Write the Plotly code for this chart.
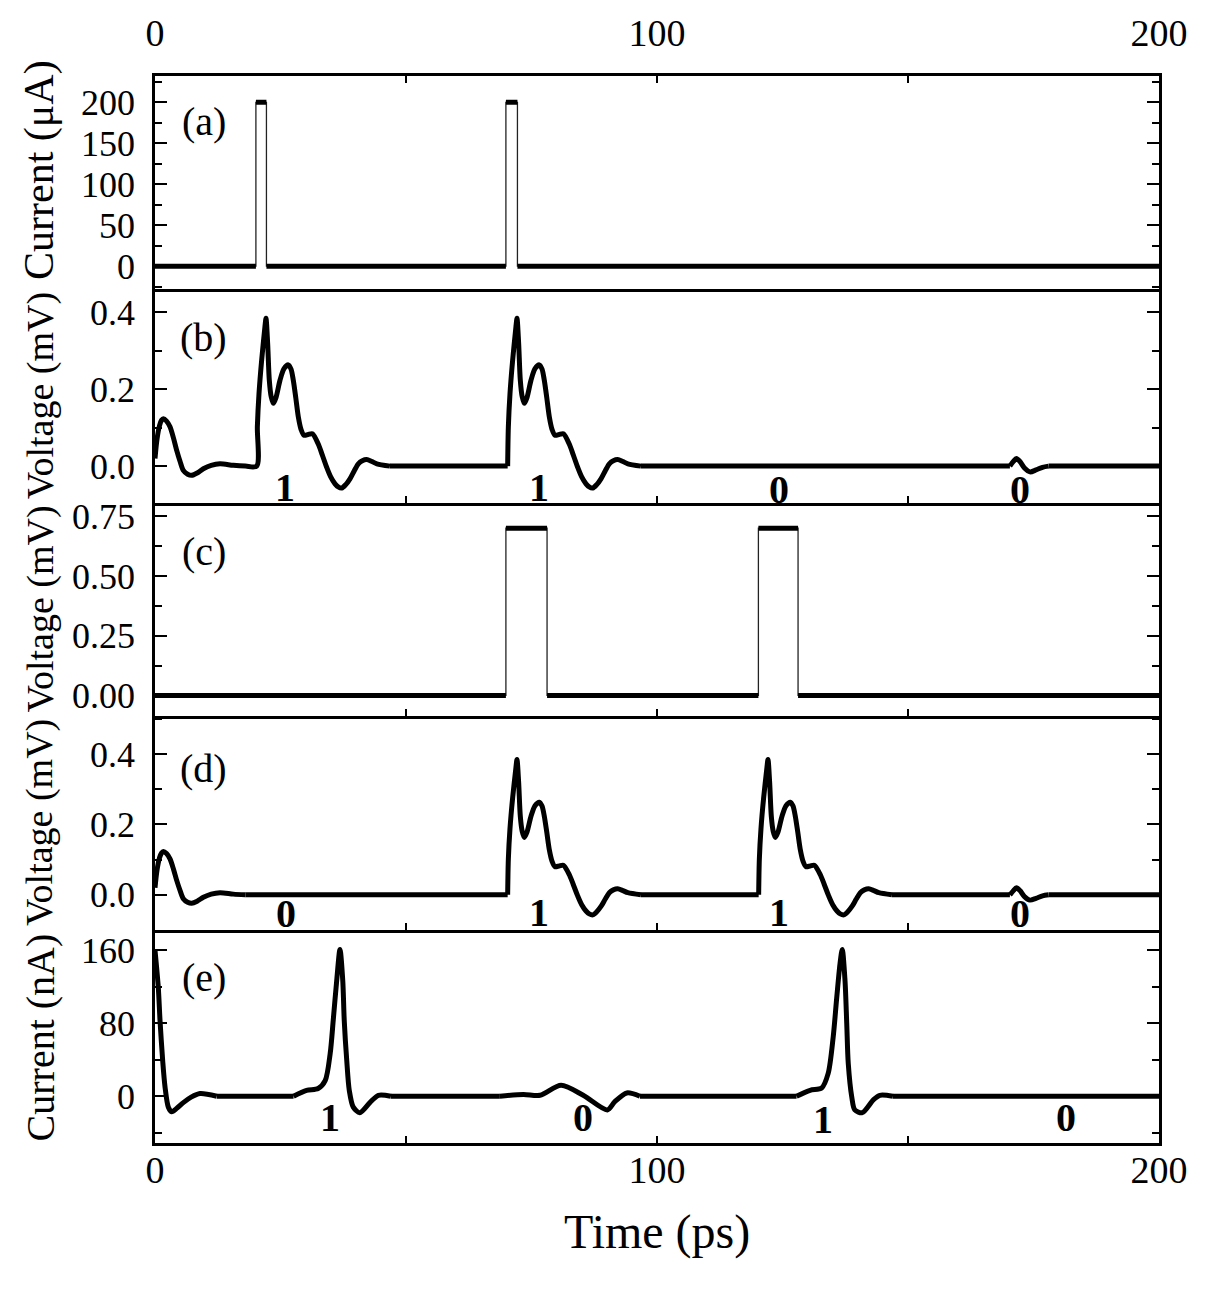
import plotly.graph_objects as go

# ---------------- data ----------------
# (a) input current pulses (uA)
a_t = [0, 20.1, 20.1, 22.2, 22.2, 69.9, 69.9, 72.2, 72.2, 200]
a_v = [0, 0, 200, 200, 0, 0, 200, 200, 0, 0]

# (c) input voltage pulses (mV)
c_t = [0, 69.9, 69.9, 78.1, 78.1, 120.2, 120.2, 128.1, 128.1, 200]
c_v = [0, 0, 0.7, 0.7, 0, 0, 0.7, 0.7, 0, 0]

# start-up ringing seen at t = 0 in (b) and (d) (mV)
init_t = [0, 0.4, 0.9, 1.3, 1.66, 2.3, 2.99, 3.7, 4.32, 5.0, 5.64, 6.5, 7.3, 8.4, 9.63, 11.2, 12.95, 15.6, 18]
init_v = [0.02, 0.07, 0.105, 0.119, 0.123, 0.117, 0.102, 0.072, 0.041, 0.012, -0.011, -0.021, -0.024, -0.018,
          -0.007, 0.002, 0.006, 0.002, 0]

# voltage response after an input pulse, time measured from the pulse start (mV)
resp_dt = [0.25, 0.39, 0.72, 1.25, 1.91, 2.11, 2.44, 2.77, 3.15, 3.57, 4.1, 4.9, 5.7, 6.56, 7.1, 7.55,
           8.05, 8.55, 9.1, 9.68, 10.5, 11.34, 12.5, 13.3, 14.2, 15.0, 15.86, 16.5, 17.2, 18.0, 18.84,
           19.7, 20.5, 21.3, 22.17, 23.2, 24.2, 26.8]
resp_v = [0, 0.102, 0.189, 0.276, 0.363, 0.384, 0.319, 0.223, 0.18, 0.163, 0.178, 0.223, 0.253, 0.263,
          0.252, 0.223, 0.177, 0.128, 0.095, 0.08, 0.082, 0.084, 0.058, 0.03, -0.003, -0.028, -0.046,
          -0.054, -0.057, -0.048, -0.033, -0.012, 0.006, 0.014, 0.017, 0.012, 0.006, 0]
b_pulses = [20, 70]
d_pulses = [70, 120]

# small ripple near 172 ps in (b) and (d) (mV)
wig_t = [170.3, 171.0, 171.6, 172.3, 173.2, 174.3, 175.5, 176.8, 178.0]
wig_v = [0, 0.012, 0.02, 0.012, -0.005, -0.015, -0.01, -0.003, 0]

# (e) output current (nA)
e_t = [0, 0.66, 1.0, 1.53, 2.0, 2.66, 3.32, 4.4, 5.64, 7.2, 8.96, 12.3, 27.6, 30.2, 32.5, 33.9, 34.9,
       35.5, 36.2, 36.85, 37.4, 37.7, 38.2, 38.7, 39.5, 40.8, 42.8, 44.5, 47, 68.7, 73.4,
       76.7, 80.9, 85.3, 90.1, 91.6, 94.0, 96.6, 127.8, 130.5, 132.8, 134.1, 135.1, 135.8,
       136.45, 136.9, 137.45, 137.8, 138.1, 138.8, 139.4, 140.9, 143.1, 144.4, 147, 200]
e_v = [160, 119, 83, 39, 10, -12, -17, -13, -7, -1, 3, 0, 0, 6.5, 8.4, 17, 47,
       83, 127, 161, 127, 83, 39, 6.5, -12, -18, -7, 1, 0, 0, 2,
       1, 12, 1, -15, -6, 3.6, 0, 0, 6.5, 9, 25, 65, 108,
       145, 161, 127, 79, 36, -1, -15, -18, -4, 1, 0, 0]

# bit labels
b_lab_t = [25.9, 76.4, 124.3, 172.3]
b_lab_v = [-0.055, -0.055, -0.06, -0.06]
b_lab_s = ["1", "1", "0", "0"]
d_lab_t = [26.0, 76.4, 124.4, 172.3]
d_lab_v = [-0.052, -0.05, -0.05, -0.052]
d_lab_s = ["0", "1", "1", "0"]
e_lab_t = [34.9, 85.2, 133.1, 181.5]
e_lab_v = [-23.5, -23.5, -26, -23.5]
e_lab_s = ["1", "0", "1", "0"]

panel_tags = ["(a)", "(b)", "(c)", "(d)", "(e)"]
y_titles = ["Current (\u03bcA)", "Voltage (mV)", "Voltage (mV)", "Voltage (mV)", "Current (nA)"]
x_tickvals = [0, 50, 100, 150, 200]
x_ticktext = ["0", "", "100", "", "200"]


def build_response(pulses):
    ts, vs = list(init_t), list(init_v)
    for p in pulses:
        ts += [p + d for d in resp_dt]
        vs += list(resp_v)
    ts += wig_t + [200]
    vs += wig_v + [0]
    return ts, vs


def flat_parts(ts, vs):
    xs, ys = [], []
    for i in range(len(ts) - 1):
        if vs[i] == vs[i + 1] and ts[i] != ts[i + 1]:
            xs += [ts[i], ts[i + 1], None]
            ys += [vs[i], vs[i + 1], None]
    return xs, ys


def split_smooth(ts, vs, gap=5):
    """Long flat stretches drawn straight, the rest drawn smooth."""
    sx, sy, lx, ly = [], [], [], []
    for i in range(len(ts)):
        sx.append(ts[i]); sy.append(vs[i])
        if i < len(ts) - 1 and ts[i + 1] - ts[i] > gap and vs[i] == vs[i + 1] == 0:
            lx += [ts[i], ts[i + 1], None]; ly += [vs[i], vs[i + 1], None]
            sx.append(None); sy.append(None)
    return sx, sy, lx, ly


b_t, b_v = build_response(b_pulses)
d_t, d_v = build_response(d_pulses)

FONT = "Liberation Serif, Times New Roman, serif"
fig = go.Figure()

# (a) and (c): thin edges + thick flat parts
for idx, (ts, vs) in [(1, (a_t, a_v)), (3, (c_t, c_v))]:
    xa = "x" if idx == 1 else f"x{idx}"
    ya = "y" if idx == 1 else f"y{idx}"
    fig.add_trace(go.Scatter(x=ts, y=vs, mode="lines", line=dict(color="#222", width=1.3),
                             xaxis=xa, yaxis=ya, showlegend=False))
    fx, fy = flat_parts(ts, vs)
    fig.add_trace(go.Scatter(x=fx, y=fy, mode="lines", line=dict(color="black", width=5),
                             xaxis=xa, yaxis=ya, showlegend=False))

for idx, (ts, vs) in [(2, (b_t, b_v)), (4, (d_t, d_v)), (5, (e_t, e_v))]:
    sx, sy, lx, ly = split_smooth(ts, vs)
    fig.add_trace(go.Scatter(x=lx, y=ly, mode="lines", line=dict(color="black", width=5),
                             xaxis=f"x{idx}", yaxis=f"y{idx}", showlegend=False))
    fig.add_trace(go.Scatter(x=sx, y=sy, mode="lines",
                             line=dict(color="black", width=5, shape="spline", smoothing=0.8),
                             xaxis=f"x{idx}", yaxis=f"y{idx}", showlegend=False))

ranges = [[-28.3, 232.1], [-0.0953, 0.459], [-0.087, 0.806], [-0.0987, 0.507], [-51.3, 182.7]]
dticks = [50, 0.2, 0.25, 0.2, 80]
minors = [25, 0.1, 0.125, 0.1, 40]
fmts = ["d", ".1f", ".2f", ".1f", "d"]
domains = [[0.8, 1.0], [0.6, 0.8], [0.4, 0.6], [0.2, 0.4], [0.0, 0.2]]

layout = dict(width=1227, height=1300, margin=dict(l=155, r=68, t=72, b=157),
              paper_bgcolor="white", plot_bgcolor="white",
              font=dict(family=FONT, color="black"))
for i in range(5):
    n = "" if i == 0 else str(i + 1)
    layout[f"xaxis{n}"] = dict(
        domain=[0, 1], anchor=f"y{n}", range=[0, 200], showgrid=False, zeroline=False,
        showline=True, linecolor="black", linewidth=2.5, mirror=(i == 0),
        ticks="inside", ticklen=7, tickwidth=2, tickcolor="black",
        tickvals=x_tickvals, ticktext=x_ticktext,
        showticklabels=(i == 0 or i == 4), side="top" if i == 0 else "bottom",
        tickfont=dict(family=FONT, size=38, color="black"),
        ticklabelstandoff=12 if i == 0 else -8)
    layout[f"yaxis{n}"] = dict(
        domain=domains[i], anchor=f"x{n}", range=ranges[i], showgrid=False, zeroline=False,
        showline=True, linecolor="black", linewidth=2.5, mirror="ticks",
        ticks="inside", ticklen=12, tickwidth=2, tickcolor="black",
        dtick=dticks[i], tick0=0, tickformat=fmts[i],
        minor=dict(dtick=minors[i], ticks="inside", ticklen=7, tickwidth=2, tickcolor="black"),
        tickfont=dict(family=FONT, size=36, color="black"), ticklabelstandoff=10)
fig.update_layout(**layout)

ann = []
tag_y = [0.785, 0.773, 0.77, 0.757, 0.774]
for i in range(5):
    n = "" if i == 0 else str(i + 1)
    ann.append(dict(text=panel_tags[i], xref=f"x{n} domain", yref=f"y{n} domain",
                    x=0.0488, y=tag_y[i], xanchor="center", yanchor="middle", showarrow=False,
                    font=dict(family=FONT, size=40, color="black")))
title_y = [0.912, 0.7, 0.5, 0.3, 0.099]
title_size = [42, 38, 38, 38, 40]
for i in range(5):
    ann.append(dict(text=y_titles[i], xref="paper", yref="paper", x=-0.1145, y=title_y[i],
                    xanchor="center", yanchor="middle", textangle=-90, showarrow=False,
                    font=dict(family=FONT, size=title_size[i], color="black")))
for (ts, vs, ss, n) in [(b_lab_t, b_lab_v, b_lab_s, "2"), (d_lab_t, d_lab_v, d_lab_s, "4"),
                        (e_lab_t, e_lab_v, e_lab_s, "5")]:
    for t, v, s in zip(ts, vs, ss):
        ann.append(dict(text=f"<b>{s}</b>", xref=f"x{n}", yref=f"y{n}", x=t, y=v,
                        xanchor="center", yanchor="middle", showarrow=False,
                        font=dict(family=FONT, size=40, color="black")))
ann.append(dict(text="Time (ps)", xref="paper", yref="paper", x=0.5, y=-0.083,
                xanchor="center", yanchor="middle", showarrow=False,
                font=dict(family=FONT, size=48, color="black")))
fig.update_layout(annotations=ann)

fig.write_html("out.html")
